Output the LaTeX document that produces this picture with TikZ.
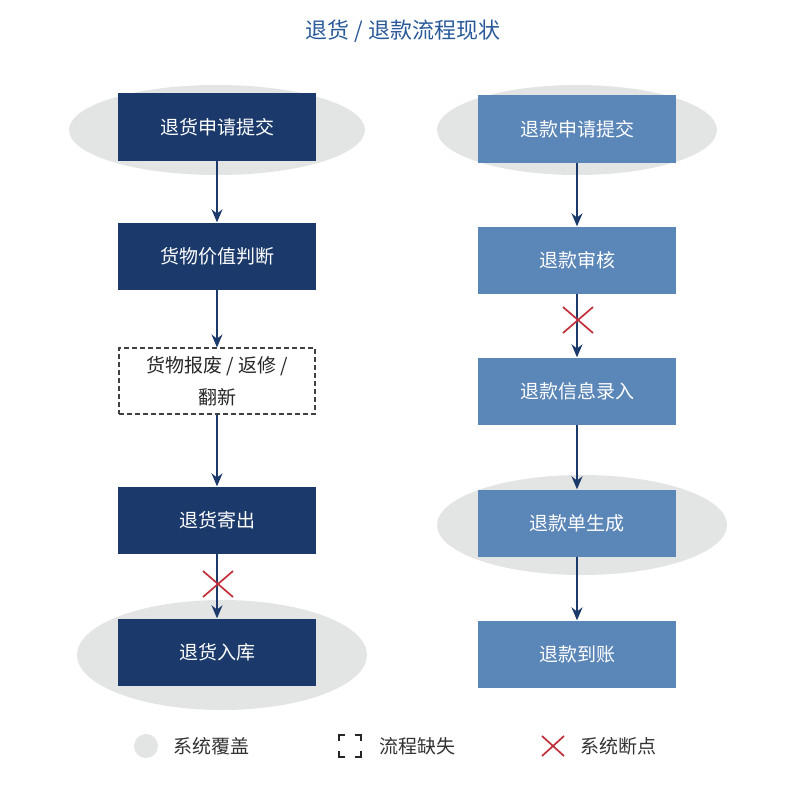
\documentclass[tikz,border=0pt]{standalone}
\usepackage{fontspec}
\setmainfont{Noto Sans CJK SC}
\usetikzlibrary{arrows.meta,calc}
\definecolor{dark}{HTML}{1B3A6B}
\definecolor{light}{HTML}{5B86B8}
\definecolor{ell}{HTML}{E3E4E4}
\definecolor{ttl}{HTML}{2A5A9A}
\definecolor{crs}{HTML}{C0303A}
\begin{document}
\begin{tikzpicture}[x=1pt,y=-1pt,
  dbox/.style={fill=dark,text=white,minimum width=198pt,minimum height=67pt,inner sep=0,font=\fontsize{19}{22}\selectfont},
  lbox/.style={fill=light,text=white,minimum width=198pt,minimum height=67pt,inner sep=0,font=\fontsize{19}{22}\selectfont},
  arr/.style={-{Stealth[length=13pt,width=11pt]},draw=dark,line width=1.6pt},
  crossm/.style={draw=crs,line width=1.7pt},
  leg/.style={anchor=west,font=\fontsize{19}{22}\selectfont,text=black!80}]
\useasboundingbox (0,0) rectangle (808,797);
\node[font=\fontsize{22}{26}\selectfont,text=ttl] (title) at (403,31) {退货 / 退款流程现状};
% ellipses
\fill[ell] (217,130) ellipse (148 and 45);
\fill[ell] (222,655) ellipse (145 and 55);
\fill[ell] (577,130) ellipse (140 and 45);
\fill[ell] (582,525) ellipse (145 and 50);
% left
\node[dbox] (l1) at (217,127) {退货申请提交};
\node[dbox] (l2) at (217,256) {货物价值判断};
\node[draw=black!75,line width=1.1pt,dash pattern=on 5pt off 3pt,minimum width=196pt,minimum height=66pt,align=center,text=black!85,font=\fontsize{19}{32}\selectfont] (l3) at (217,381) {货物报废 / 返修 /\\翻新};
\node[dbox] (l4) at (217,520) {退货寄出};
\node[dbox] (l5) at (217,652) {退货入库};
\draw[arr] (l1) -- (l2);
\draw[arr] (l2) -- (l3);
\draw[arr] (l3) -- (l4);
\draw[arr] (l4) -- (l5);
% right
\node[lbox] (r1) at (577,129) {退款申请提交};
\node[lbox] (r2) at (577,260) {退款审核};
\node[lbox] (r3) at (577,391) {退款信息录入};
\node[lbox] (r4) at (577,523) {退款单生成};
\node[lbox] (r5) at (577,654) {退款到账};
\draw[arr] (r1) -- (r2);
\draw[arr] (r2) -- (r3);
\draw[arr] (r3) -- (r4);
\draw[arr] (r4) -- (r5);
% crosses
\coordinate (c1) at (218,584);
\coordinate (c2) at (578,320);
\draw[crossm] ($(c1)+(-15,-13)$) -- ($(c1)+(15,13)$) ($(c1)+(-15,13)$) -- ($(c1)+(15,-13)$);
\draw[crossm] ($(c2)+(-15,-13)$) -- ($(c2)+(15,13)$) ($(c2)+(-15,13)$) -- ($(c2)+(15,-13)$);
% legend
\fill[ell] (146,746) circle (12);
\node[leg] (g1) at (170,746) {系统覆盖};
\draw[black!85,line width=1.7pt] (339,741)--(339,735)--(345,735) (355,735)--(361,735)--(361,741) (361,751)--(361,757)--(355,757) (345,757)--(339,757)--(339,751);
\node[leg] (g2) at (376,746) {流程缺失};
\coordinate (c3) at (553,746);
\draw[crossm] ($(c3)+(-11,-10)$) -- ($(c3)+(11,10)$) ($(c3)+(-11,10)$) -- ($(c3)+(11,-10)$);
\node[leg] (g3) at (577,746) {系统断点};
\end{tikzpicture}
\end{document}
